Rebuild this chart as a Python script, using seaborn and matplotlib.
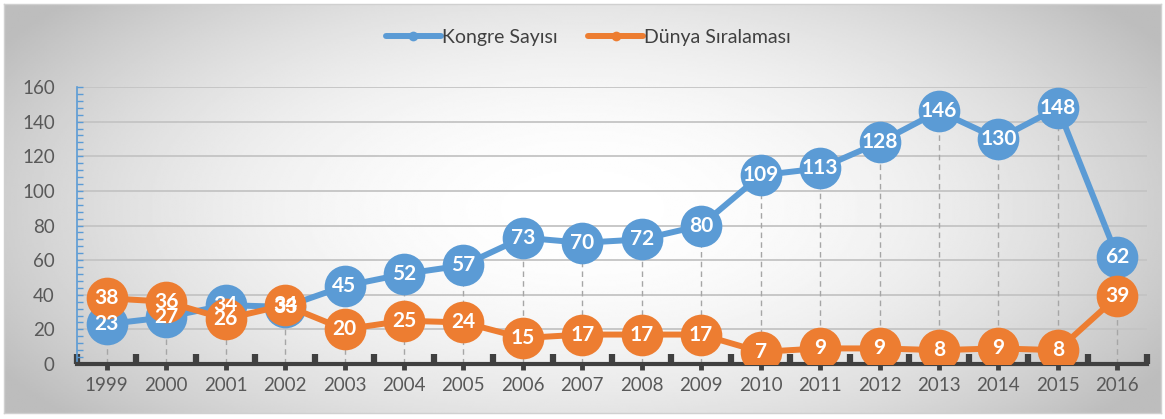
import numpy as np
import pandas as pd
import matplotlib
matplotlib.use("Agg")
import matplotlib.pyplot as plt
import seaborn as sns
from matplotlib.lines import Line2D
from matplotlib.ticker import MultipleLocator, FixedLocator

# --- data -------------------------------------------------------------
years = [1999, 2000, 2001, 2002, 2003, 2004, 2005, 2006, 2007,
         2008, 2009, 2010, 2011, 2012, 2013, 2014, 2015, 2016]
kongre_sayisi = [23, 27, 34, 33, 45, 52, 57, 73, 70,
                 72, 80, 109, 113, 128, 146, 130, 148, 62]
dunya_siralamasi = [38, 36, 26, 34, 20, 25, 24, 15, 17,
                    17, 17, 7, 9, 9, 8, 9, 8, 39]
series_names = ["Kongre Sayısı", "Dünya Sıralaması"]
series_colors = ["#5B9BD5", "#ED7D31"]
y_ticks = [0, 20, 40, 60, 80, 100, 120, 140, 160]

pos = list(range(len(years)))
df = pd.DataFrame({
    "pos": pos * 2,
    "value": kongre_sayisi + dunya_siralamasi,
    "series": [series_names[0]] * len(years) + [series_names[1]] * len(years),
})

# --- style ------------------------------------------------------------
sns.set_theme(style="white")
plt.rcParams["font.family"] = ["Lato", "DejaVu Sans"]

W, H, DPI = 1165, 419, 100
fig = plt.figure(figsize=(W / DPI, H / DPI), dpi=DPI)
fig.patch.set_facecolor("white")

# radial grey backdrop behind the chart area
bg = fig.add_axes([4 / W, 6 / H, (W - 8) / W, (H - 10) / H], zorder=0)
gx = np.linspace(-1, 1, 600)
gy = np.linspace(-1, 1, 220)
X, Y = np.meshgrid(gx, gy)
r2 = (X / 1.0) ** 2 + (Y / 1.35) ** 2
shade = np.clip(1 - 0.19 * r2, 0.74, 1.0)
bg.imshow(shade, cmap="gray", vmin=0, vmax=1, aspect="auto",
          extent=[0, 1, 0, 1], interpolation="bilinear")
bg.set_xticks([])
bg.set_yticks([])
for s in bg.spines.values():
    s.set_color("#D0D0D0")
    s.set_linewidth(1)

ax = fig.add_axes([77 / W, 1 - 364 / H, (1147 - 77) / W, (364 - 87) / H], zorder=1)
ax.set_facecolor("none")

# drop lines from the higher point down to the axis
tops = [max(a, b) for a, b in zip(kongre_sayisi, dunya_siralamasi)]
ax.vlines(pos, 0, tops, colors="#A6A6A6", linestyles=(0, (4, 3)),
          linewidth=1, zorder=1.5)

sns.lineplot(data=df, x="pos", y="value", hue="series",
             hue_order=series_names, palette=series_colors,
             marker="o", markersize=30, markeredgewidth=0,
             linewidth=4.3, legend=False, ax=ax, zorder=3)

# value labels
for values in (kongre_sayisi, dunya_siralamasi):
    for x, v in zip(pos, values):
        ax.text(x, v, str(v), ha="center", va="center", color="white",
                fontsize=15, fontweight="bold", zorder=10)

# axes
ax.set_xlim(-0.5, len(years) - 0.5)
ax.set_ylim(0, 160)
ax.set_xlabel("")
ax.set_ylabel("")
ax.set_xticks(pos)
ax.set_xticklabels([str(y) for y in years])
ax.xaxis.set_minor_locator(FixedLocator(np.arange(-0.5, len(years), 1.0)))
ax.set_yticks(y_ticks)
ax.yaxis.set_minor_locator(MultipleLocator(4))

ax.yaxis.grid(True, color="#C4C4C4", linewidth=1.3)
ax.xaxis.grid(False)
ax.set_axisbelow(True)

for side in ("top", "right"):
    ax.spines[side].set_visible(False)
ax.spines["left"].set_color(series_colors[0])
ax.spines["left"].set_linewidth(1.2)
ax.spines["bottom"].set_color("#404040")
ax.spines["bottom"].set_linewidth(3)

ax.tick_params(axis="y", which="both", direction="in", color=series_colors[0],
               length=4, width=1, left=True)
ax.tick_params(axis="y", which="major", labelsize=13.5, labelcolor="#595959", pad=16)
ax.tick_params(axis="x", which="major", direction="out", color="#404040",
               length=4, width=3.5, bottom=True, labelsize=13.5,
               labelcolor="#595959", pad=5)
ax.tick_params(axis="x", which="minor", direction="in", color="#404040",
               length=7, width=4.5, bottom=True)

# legend
handles = [Line2D([0], [0], color=c, linewidth=4.3, marker="o", markersize=7,
                  markeredgewidth=0) for c in series_colors]
fig.legend(handles, series_names, loc="center", bbox_to_anchor=(0.505, 1 - 37 / H),
           ncol=2, frameon=False, fontsize=14, handlelength=2.8,
           handletextpad=0.05, columnspacing=1.6, labelcolor="#404040")

fig.savefig("out.png", dpi=DPI)
